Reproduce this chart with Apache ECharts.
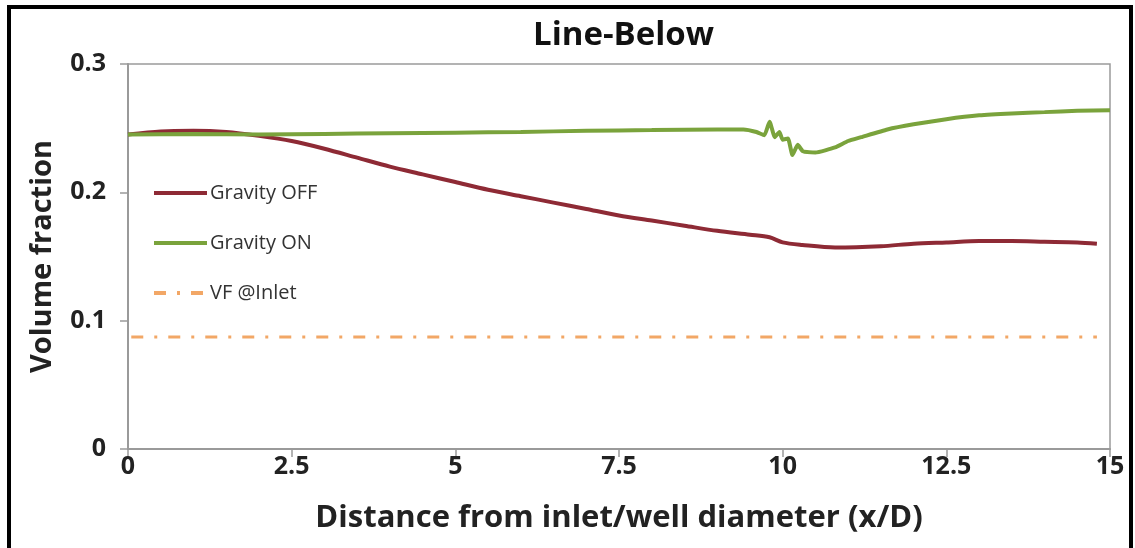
<!DOCTYPE html>
<html>
<head>
<meta charset="utf-8">
<script src="https://cdn.jsdelivr.net/npm/echarts@6/dist/echarts.min.js"></script>
<style>
html,body{margin:0;padding:0;background:#fff;}
#chart{width:1135px;height:548px;}
</style>
</head>
<body>
<div id="chart"></div>
<script>
// ---- data ----
const offX = [0, 0.5, 1.0, 1.5, 2.0, 2.5, 3.0, 3.5, 4.0, 4.5, 5.0, 5.5, 6.0, 6.5, 7.0, 7.5, 8.0, 8.5, 9.0, 9.5, 9.8, 10.0, 10.3, 10.8, 11.5, 12.0, 12.5, 13.0, 13.5, 14.0, 14.5, 14.8];
const offY = [0.245, 0.2475, 0.248, 0.247, 0.244, 0.240, 0.234, 0.227, 0.220, 0.214, 0.208, 0.202, 0.197, 0.192, 0.187, 0.182, 0.178, 0.174, 0.170, 0.167, 0.165, 0.161, 0.159, 0.157, 0.158, 0.160, 0.161, 0.162, 0.162, 0.1615, 0.161, 0.160];

const onX = [0, 1, 2, 3, 4, 5, 6, 7, 8, 9, 9.4, 9.6, 9.72, 9.8, 9.88, 9.95, 10.0, 10.08, 10.15, 10.23, 10.31, 10.5, 10.8, 11.0, 11.2, 11.6, 12.0, 12.5, 13.0, 13.5, 14.0, 14.5, 15.0];
const onY = [0.245, 0.2455, 0.245, 0.2455, 0.246, 0.2465, 0.247, 0.248, 0.2485, 0.249, 0.249, 0.247, 0.2445, 0.255, 0.243, 0.247, 0.241, 0.242, 0.229, 0.237, 0.232, 0.231, 0.235, 0.240, 0.243, 0.249, 0.253, 0.257, 0.260, 0.2615, 0.2625, 0.2635, 0.264];

const inletX = [0.05, 14.8];
const inletY = [0.0873, 0.0873];

const seriesNames = ['Gravity OFF', 'Gravity ON', 'VF @Inlet'];
const xTicks = [0, 2.5, 5, 7.5, 10, 12.5, 15];
const yTicks = [0, 0.1, 0.2, 0.3];

const titleText = 'Line-Below';
const xName = 'Distance from inlet/well diameter (x/D)';
const yName = 'Volume fraction';

function zip(xs, ys){ return xs.map((x,i)=>[x, ys[i]]); }

const FONT = '"Open Sans", "Noto Sans", sans-serif';
const chart = echarts.init(document.getElementById('chart'), null, {renderer:'canvas'});
chart.setOption({
  animation: false,
  backgroundColor: '#ffffff',
  title: {
    text: titleText, left: 528, top: 14,
    textStyle: {fontFamily: FONT, fontWeight: 'bold', fontSize: 33, color: '#111'}
  },
  graphic: [{
    type: 'rect', silent: true, z: 100,
    shape: {x: 9, y: 7, width: 1122, height: 600},
    style: {fill: 'none', stroke: '#000', lineWidth: 4}
  }],
  legend: {
    orient: 'vertical', left: 147, top: 178,
    itemWidth: 53, itemHeight: 20, itemGap: 30,
    data: seriesNames,
    itemStyle: {opacity: 0},
    lineStyle: {width: 4},
    textStyle: {fontFamily: FONT, fontSize: 20, color: '#333', padding: [0,0,0,-2]}
  },
  grid: {
    left: 128, right: 25, top: 64, bottom: 99,
    show: true, borderColor: '#9a9a9a', borderWidth: 1.5, backgroundColor: 'transparent'
  },
  xAxis: {
    type: 'value', min: xTicks[0], max: xTicks[xTicks.length-1], interval: 2.5,
    name: xName, nameLocation: 'middle', nameGap: 54,
    nameTextStyle: {fontFamily: FONT, fontWeight: 'bold', fontSize: 31, color: '#222'},
    axisLine: {lineStyle: {color: '#9a9a9a', width: 2}},
    axisTick: {show: true, length: 8, inside: false, lineStyle: {color: '#9a9a9a', width: 1.5}},
    axisLabel: {fontFamily: FONT, fontWeight: 'bold', fontSize: 25, color: '#222', margin: 5},
    splitLine: {show: false}
  },
  yAxis: {
    type: 'value', min: yTicks[0], max: yTicks[yTicks.length-1], interval: 0.1,
    name: yName, nameLocation: 'middle', nameGap: 71, nameRotate: 90,
    nameTextStyle: {fontFamily: FONT, fontWeight: 'bold', fontSize: 29, color: '#222'},
    axisLine: {show: true, lineStyle: {color: '#9a9a9a', width: 2}},
    axisTick: {show: true, length: 8, lineStyle: {color: '#9a9a9a', width: 1.5}},
    axisLabel: {fontFamily: FONT, fontWeight: 'bold', fontSize: 25, color: '#222', margin: 22},
    splitLine: {show: false}
  },
  series: [
    {
      name: seriesNames[0], type: 'line', data: zip(offX, offY),
      smooth: 0.3, showSymbol: false, symbol: 'none',
      lineStyle: {color: '#8e2a35', width: 4}, itemStyle: {color: '#8e2a35'}
    },
    {
      name: seriesNames[1], type: 'line', data: zip(onX, onY),
      smooth: 0.15, showSymbol: false, symbol: 'none',
      lineStyle: {color: '#7aa33c', width: 4}, itemStyle: {color: '#7aa33c'}
    },
    {
      name: seriesNames[2], type: 'line', data: zip(inletX, inletY),
      showSymbol: false, symbol: 'none',
      lineStyle: {color: '#f2a766', width: 3, type: [12, 11, 3, 11]}, itemStyle: {color: '#f2a766'}
    }
  ]
});
</script>
</body>
</html>
